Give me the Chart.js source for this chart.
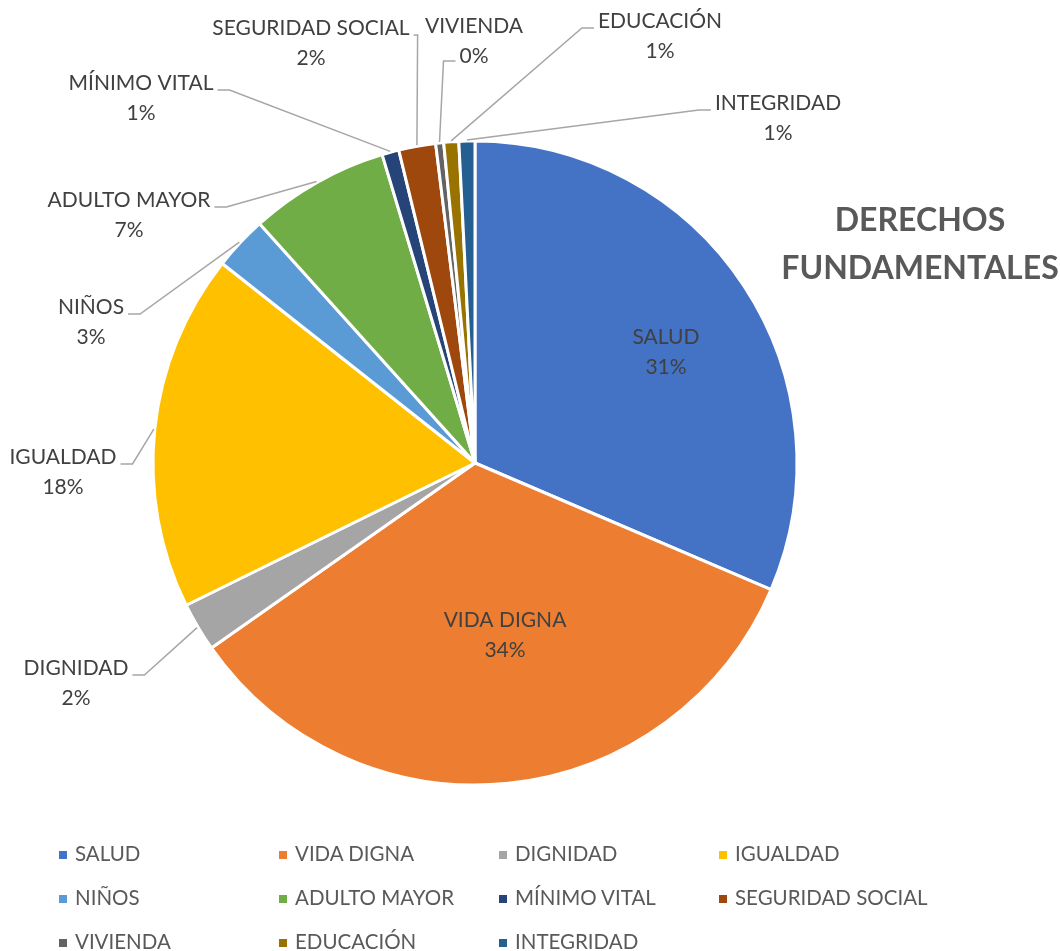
<!DOCTYPE html>
<html>
<head>
<meta charset="utf-8">
<script src="https://cdn.jsdelivr.net/npm/chart.js@4.4.1/dist/chart.umd.min.js"></script>
<style>
  html, body { margin: 0; padding: 0; background: #fff; }
  #wrap { position: relative; width: 1060px; height: 951px; overflow: hidden; }
  #chart { position: absolute; left: 0; top: 0; }
  #title {
    position: absolute; left: 750px; width: 340px; top: 195px;
    text-align: center; font-family: Lato, sans-serif; font-weight: bold;
    font-size: 32px; line-height: 48px; color: #595959;
  }
  #legend { position: absolute; left: 0; top: 0; font-family: Lato, sans-serif; font-size: 20.5px; color: #595959; }
  .item { position: absolute; white-space: nowrap; line-height: 24px; }
  .item span.box { display: inline-block; width: 8px; height: 8px; margin-right: 8px; vertical-align: 2px; }
</style>
</head>
<body>
<div id="wrap">
  <canvas id="chart" width="1060" height="951"></canvas>
  <div id="title">DERECHOS<br>FUNDAMENTALES</div>
  <div id="legend"></div>
</div>
<script>
// data
const categories = ['SALUD', 'VIDA DIGNA', 'DIGNIDAD', 'IGUALDAD', 'NIÑOS', 'ADULTO MAYOR',
  'MÍNIMO VITAL', 'SEGURIDAD SOCIAL', 'VIVIENDA', 'EDUCACIÓN', 'INTEGRIDAD'];
const values = [31.4, 33.8, 2.45, 17.9, 2.7, 7.0, 0.85, 1.85, 0.4, 0.75, 0.8];
const colors = ['#4472C4', '#ED7D31', '#A5A5A5', '#FFC000', '#5B9BD5', '#70AD47',
  '#264478', '#9E480E', '#636363', '#997300', '#255E91'];

// where Excel put each data label (centre of first text line), and where the leader attaches
const labelLayout = [
  { x: 666, y: 337, attach: 'none' },
  { x: 505, y: 620, attach: 'none' },
  { x: 76, y: 668, attach: 'right' },
  { x: 63, y: 457, attach: 'right' },
  { x: 91, y: 307, attach: 'right' },
  { x: 129, y: 200, attach: 'right' },
  { x: 141, y: 83, attach: 'right' },
  { x: 311, y: 28, attach: 'right', stub: 4 },
  { x: 474, y: 26, attach: 'left', line: 1 },
  { x: 660, y: 21, attach: 'left' },
  { x: 778, y: 103, attach: 'left' }
];

const total = values.reduce((a, b) => a + b, 0);
const pct = v => Math.round(v / total * 100) + '%';

const labelFont = '21px Lato, sans-serif';
const lineGap = 30;

const leaderLabels = {
  id: 'leaderLabels',
  afterDatasetsDraw(chart) {
    const ctx = chart.ctx;
    const arcs = chart.getDatasetMeta(0).data;
    ctx.save();
    ctx.font = labelFont;
    ctx.textAlign = 'center';
    ctx.textBaseline = 'middle';
    arcs.forEach((arc, i) => {
      const lay = labelLayout[i];
      const lines = [categories[i], pct(values[i])];
      ctx.fillStyle = '#404040';
      lines.forEach((t, k) => ctx.fillText(t, lay.x, lay.y + k * lineGap));
      if (lay.attach === 'none') return;

      const p = arc.getProps(['x', 'y', 'startAngle', 'endAngle', 'outerRadius'], true);
      const mid = (p.startAngle + p.endAngle) / 2;
      const sx = p.x + Math.cos(mid) * (p.outerRadius + 1);
      const sy = p.y + Math.sin(mid) * (p.outerRadius + 1);

      const li = lay.line || 0;
      const w = ctx.measureText(lines[li]).width;
      const ly = lay.y + li * lineGap + (li === 0 ? 7 : 5);
      const stub = lay.stub !== undefined ? lay.stub : 12;
      let ex, bx;
      if (lay.attach === 'right') {
        ex = lay.x + w / 2 + 4;
        bx = ex + stub;
      } else {
        ex = lay.x - w / 2 - 4;
        bx = ex - stub;
      }
      ctx.strokeStyle = '#A6A6A6';
      ctx.lineWidth = 1.5;
      ctx.beginPath();
      ctx.moveTo(ex, ly);
      ctx.lineTo(bx, ly);
      ctx.lineTo(sx, sy);
      ctx.stroke();
    });
    ctx.restore();
  }
};

new Chart(document.getElementById('chart'), {
  type: 'pie',
  data: {
    labels: categories,
    datasets: [{
      data: values,
      backgroundColor: colors,
      borderColor: '#ffffff',
      borderWidth: 3
    }]
  },
  options: {
    responsive: false,
    animation: false,
    layout: { padding: { left: 151.5, top: 139.5, right: 261.5, bottom: 164.5 } },
    plugins: {
      legend: { display: false },
      tooltip: { enabled: false }
    }
  },
  plugins: [leaderLabels]
});

// legend, 4 columns like the Excel one
const legend = document.getElementById('legend');
categories.forEach((c, i) => {
  const col = i % 4, row = Math.floor(i / 4);
  const div = document.createElement('div');
  div.className = 'item';
  div.style.left = (59 + col * 220) + 'px';
  div.style.top = (841 + row * 44) + 'px';
  div.innerHTML = `<span class="box" style="background:${colors[i]}"></span>${c}`;
  legend.appendChild(div);
});
</script>
</body>
</html>
